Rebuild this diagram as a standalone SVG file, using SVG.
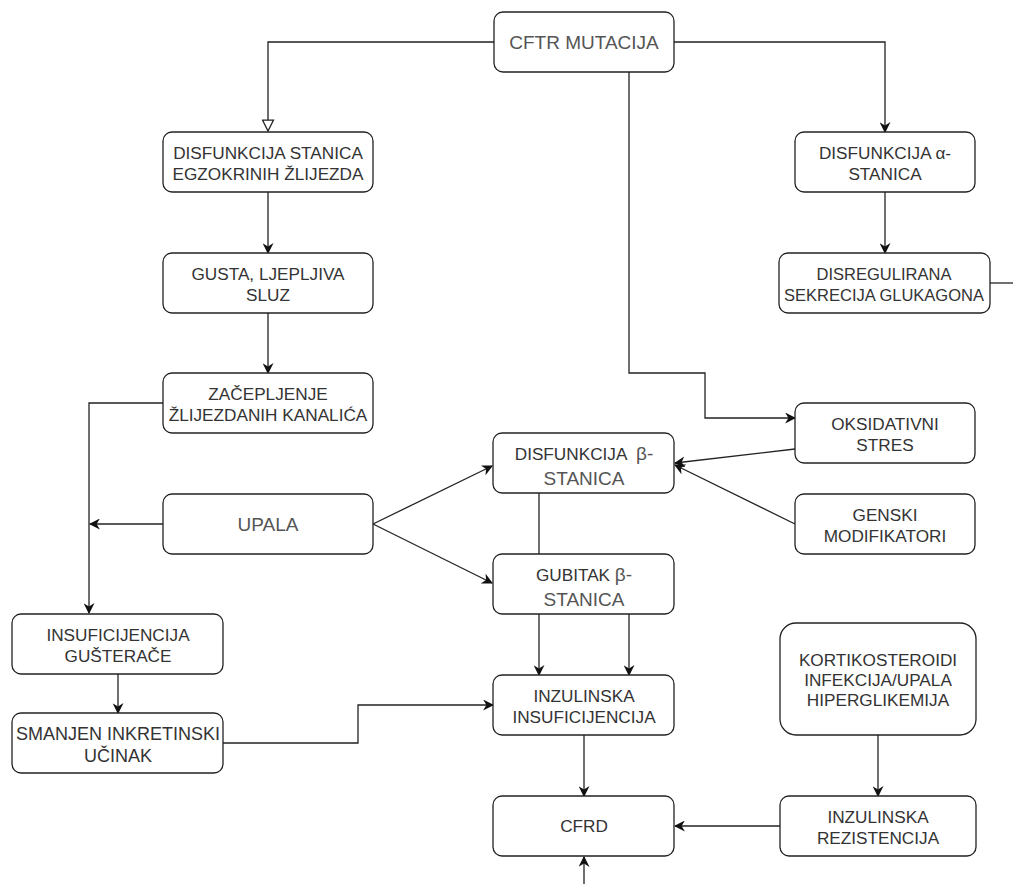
<svg xmlns="http://www.w3.org/2000/svg" width="1013" height="884" viewBox="0 0 1013 884">
<style>
.box{fill:#fff;stroke:#222;stroke-width:1.3}
.t{font-family:"Liberation Sans",Arial,sans-serif;font-size:17.2px;fill:#333;text-anchor:middle}
.lt{fill:#555}
.c{fill:none;stroke:#222;stroke-width:1.3}
</style>
<defs>
<marker id="a" viewBox="0 0 10 10" refX="9" refY="5" markerWidth="11" markerHeight="11" markerUnits="userSpaceOnUse" orient="auto">
<path d="M0,0 L10,5 L0,10 L3,5 Z" fill="#111"/>
</marker>
<marker id="o" viewBox="0 0 12 12" refX="11" refY="6" markerWidth="13" markerHeight="13" markerUnits="userSpaceOnUse" orient="auto">
<path d="M1,1 L11,6 L1,11 Z" fill="#fff" stroke="#222" stroke-width="1.2"/>
</marker>
</defs>
<rect width="1013" height="884" fill="#fff"/>
<g id="connectors">
<path class="c" d="M494,42 H268 V131" marker-end="url(#o)"/>
<path class="c" d="M674,42 H885 V132" marker-end="url(#a)"/>
<path class="c" d="M629,72 V373 H705 V418 H795" marker-end="url(#a)"/>
<path class="c" d="M268,192 V253" marker-end="url(#a)"/>
<path class="c" d="M268,313 V373" marker-end="url(#a)"/>
<path class="c" d="M885,192 V253" marker-end="url(#a)"/>
<path class="c" d="M990,283 H1013"/>
<path class="c" d="M163,403 H89 V613" marker-end="url(#a)"/>
<path class="c" d="M163,524 H90" marker-end="url(#a)"/>
<path class="c" d="M373,524 L492,466" marker-end="url(#a)"/>
<path class="c" d="M373,524 L492,583" marker-end="url(#a)"/>
<path class="c" d="M795,449 L675,463" marker-end="url(#a)"/>
<path class="c" d="M795,524 L675,465" marker-end="url(#a)"/>
<path class="c" d="M539,493 V554"/>
<path class="c" d="M539,614 V675" marker-end="url(#a)"/>
<path class="c" d="M629,614 V675" marker-end="url(#a)"/>
<path class="c" d="M118,674 V713" marker-end="url(#a)"/>
<path class="c" d="M223,743 H358 V705 H493" marker-end="url(#a)"/>
<path class="c" d="M584,735 V796" marker-end="url(#a)"/>
<path class="c" d="M584,884 V857" marker-end="url(#a)"/>
<path class="c" d="M878,735 V796" marker-end="url(#a)"/>
<path class="c" d="M780,826 H675" marker-end="url(#a)"/>
</g>
<g id="n-cftr"><rect class="box" x="494" y="12" width="180" height="60" rx="9"/><text class="t lt" x="584" y="49" style="font-size:19px">CFTR MUTACIJA</text></g>
<g id="n-egzo"><rect class="box" x="163" y="132" width="210" height="60" rx="9"/><text class="t" x="268" y="159">DISFUNKCIJA STANICA</text><text class="t" x="268" y="180">EGZOKRINIH ŽLIJEZDA</text></g>
<g id="n-sluz"><rect class="box" x="163" y="253" width="210" height="60" rx="9"/><text class="t" x="268" y="280">GUSTA, LJEPLJIVA</text><text class="t" x="268" y="301">SLUZ</text></g>
<g id="n-zacep"><rect class="box" x="163" y="373" width="210" height="60" rx="9"/><text class="t" x="268" y="400">ZAČEPLJENJE</text><text class="t" x="268" y="421">ŽLIJEZDANIH KANALIĆA</text></g>
<g id="n-upala"><rect class="box" x="163" y="494" width="210" height="60" rx="9"/><text class="t lt" x="268" y="531" style="font-size:19px">UPALA</text></g>
<g id="n-alfa"><rect class="box" x="795" y="132" width="180" height="60" rx="9"/><text class="t" x="885" y="159">DISFUNKCIJA α-</text><text class="t" x="885" y="180">STANICA</text></g>
<g id="n-glukagon"><rect class="box" x="779" y="253" width="211" height="60" rx="9"/><text class="t" x="884" y="280" style="font-size:16.5px">DISREGULIRANA</text><text class="t" x="884" y="301" style="font-size:16.5px">SEKRECIJA GLUKAGONA</text></g>
<g id="n-oks"><rect class="box" x="795" y="403" width="180" height="60" rx="9"/><text class="t" x="885" y="430">OKSIDATIVNI</text><text class="t" x="885" y="451">STRES</text></g>
<g id="n-genski"><rect class="box" x="795" y="494" width="180" height="60" rx="9"/><text class="t" x="885" y="521">GENSKI</text><text class="t" x="885" y="542">MODIFIKATORI</text></g>
<g id="n-disbeta"><rect class="box" x="493" y="433" width="181" height="60" rx="9"/><text class="t" x="584" y="460" xml:space="preserve">DISFUNKCIJA  <tspan class="lt" style="font-size:19px">β-</tspan></text><text class="t lt" x="584" y="485" style="font-size:19px">STANICA</text></g>
<g id="n-gubitak"><rect class="box" x="493" y="554" width="181" height="60" rx="9"/><text class="t" x="584" y="581">GUBITAK <tspan class="lt" style="font-size:19px">β-</tspan></text><text class="t lt" x="584" y="606" style="font-size:19px">STANICA</text></g>
<g id="n-insgust"><rect class="box" x="12" y="614" width="211" height="60" rx="9"/><text class="t" x="118" y="641">INSUFICIJENCIJA</text><text class="t" x="118" y="662">GUŠTERAČE</text></g>
<g id="n-inkret"><rect class="box" x="12" y="713" width="211" height="60" rx="9"/><text class="t" x="118" y="740" style="font-size:18px">SMANJEN INKRETINSKI</text><text class="t" x="118" y="762" style="font-size:18px">UČINAK</text></g>
<g id="n-inzins"><rect class="box" x="493" y="675" width="181" height="60" rx="9"/><text class="t" x="584" y="702">INZULINSKA</text><text class="t" x="584" y="723">INSUFICIJENCIJA</text></g>
<g id="n-kortiko"><rect class="box" x="780" y="623" width="196" height="112" rx="16"/><text class="t" x="878" y="666">KORTIKOSTEROIDI</text><text class="t" x="878" y="686">INFEKCIJA/UPALA</text><text class="t" x="878" y="706">HIPERGLIKEMIJA</text></g>
<g id="n-cfrd"><rect class="box" x="493" y="796" width="181" height="60" rx="9"/><text class="t" x="584" y="832">CFRD</text></g>
<g id="n-rezist"><rect class="box" x="780" y="796" width="196" height="60" rx="9"/><text class="t" x="878" y="823">INZULINSKA</text><text class="t" x="878" y="844">REZISTENCIJA</text></g>
</svg>
